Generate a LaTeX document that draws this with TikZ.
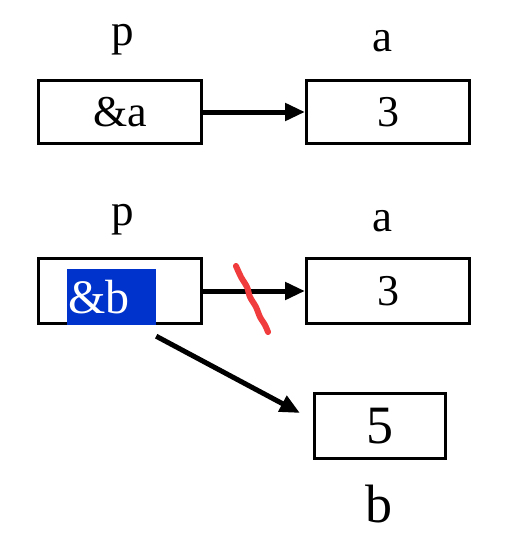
\documentclass[tikz,border=0pt]{standalone}
\usepackage{fontspec}
\setmainfont{Liberation Serif}
\usetikzlibrary{arrows.meta}
\definecolor{hlblue}{RGB}{0,51,204}
\definecolor{strike}{RGB}{240,60,60}
\begin{document}
\begin{tikzpicture}[x=1pt, y=-1pt,
    box/.style={draw, line width=3pt, minimum width=163pt, minimum height=63pt, inner sep=0pt, font=\fontsize{44}{48}\selectfont},
    varname/.style={anchor=base, inner sep=0pt, font=\fontsize{45}{48}\selectfont},
    ptr/.style={-{Triangle[length=20pt,width=17pt]}, line width=5pt}]
    \useasboundingbox (0,0) rectangle (526,544);

    % Before: p points to a
    \node[varname] (p1) at (123,45) {p};
    \node[varname] (a1) at (382,51) {a};
    \node[box] (pa) at (120,112) {\&a};
    \node[box] (aa) at (388,112) {3};
    \draw[ptr] (pa.east) -- (aa.west);

    % After: p points to b
    \node[varname] (p2) at (123,225) {p};
    \node[varname] (a2) at (382,231) {a};
    \node[box, minimum height=65pt] (pb) at (120,291) {};
    \node[fill=hlblue, text=white, minimum width=89pt, minimum height=56pt, text width=86pt, inner sep=1.5pt, font=\fontsize{48}{50}\selectfont] (hl) at (111.5,297) {\&b};
    \node[box, minimum height=65pt] (ab) at (388,291) {3};
    \draw[ptr] (pb.east) -- (ab.west);

    % Crossed out link
    \draw[strike, line width=6pt, line cap=round, line join=round] plot[smooth] coordinates {(236,266) (241,277) (247,287) (250,297) (256,307) (260,317) (265,325) (268,332)};

    % New target
    \node[box, minimum width=131pt, minimum height=65pt, font=\fontsize{54}{58}\selectfont] (bb) at (380,426) {5};
    \node[varname, font=\fontsize{54}{58}\selectfont] (b) at (379,522) {b};
    \draw[ptr] ([yshift=-11pt]hl.south east) -- ([xshift=-13pt,yshift=13pt]bb.west);
\end{tikzpicture}
\end{document}
